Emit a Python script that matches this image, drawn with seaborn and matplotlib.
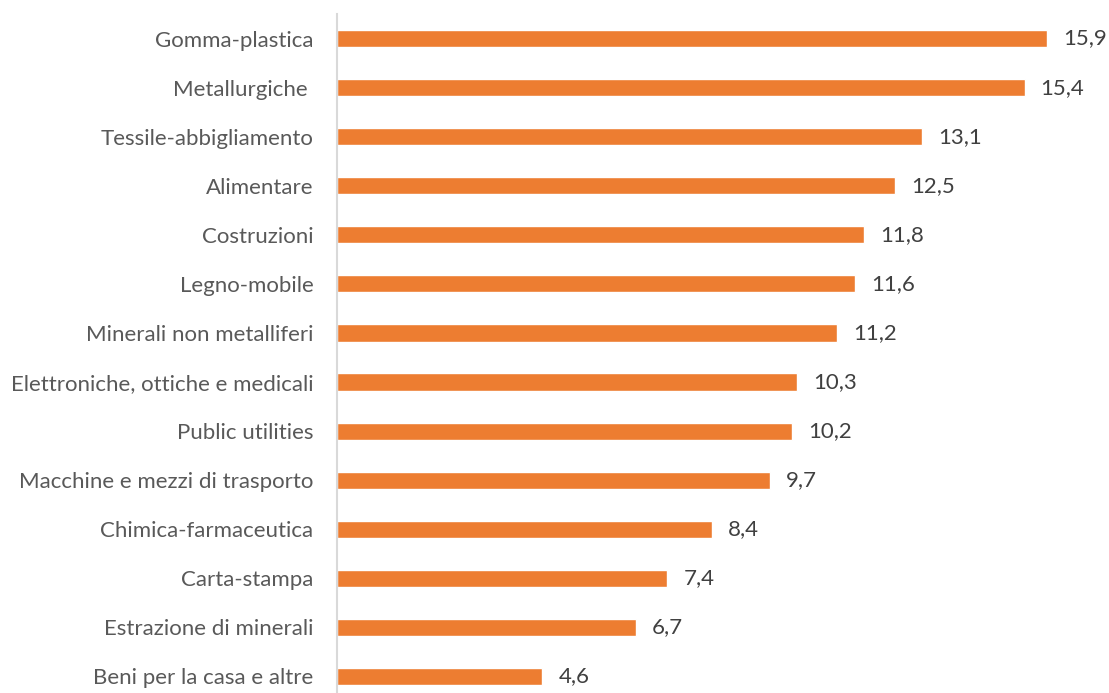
import matplotlib
matplotlib.use("Agg")
import matplotlib.pyplot as plt
import seaborn as sns
import pandas as pd

categories = ["Gomma-plastica", "Metallurgiche ", "Tessile-abbigliamento", "Alimentare",
              "Costruzioni", "Legno-mobile", "Minerali non metalliferi",
              "Elettroniche, ottiche e medicali", "Public utilities",
              "Macchine e mezzi di trasporto", "Chimica-farmaceutica", "Carta-stampa",
              "Estrazione di minerali", "Beni per la casa e altre"]
values = [15.9, 15.4, 13.1, 12.5, 11.8, 11.6, 11.2, 10.3, 10.2, 9.7, 8.4, 7.4, 6.7, 4.6]

df = pd.DataFrame({"cat": categories, "val": values})

sns.set_theme(style="white")
plt.rcParams["font.family"] = ["Lato", "DejaVu Sans"]

W, H = 1109, 693
fig = plt.figure(figsize=(W / 100, H / 100), dpi=100)
left, right, top, bottom = 337, 1100, 14, 701
ax = fig.add_axes([left / W, (H - bottom) / H, (right - left) / W, (bottom - top) / H])

sns.barplot(data=df, x="val", y="cat", color="#ED7D31", saturation=1, width=0.35, ax=ax)
ax.set_xlim(0, (right - left) / 44.65)
ax.set_ylim(len(categories) - 0.5, -0.5)
ax.set_xlabel("")
ax.set_ylabel("")
ax.set_xticks([])
for s in ["top", "right", "bottom"]:
    ax.spines[s].set_visible(False)
ax.spines["left"].set_color("#D9D9D9")
ax.spines["left"].set_linewidth(1.5)
ax.tick_params(axis="y", length=0, pad=17, labelsize=16, labelcolor="#595959")

for i, v in enumerate(values):
    ax.text(v + 0.36, i, f"{v:.1f}".replace(".", ","), va="center", ha="left",
            fontsize=16, color="#404040")

fig.savefig("out.png", dpi=100)
